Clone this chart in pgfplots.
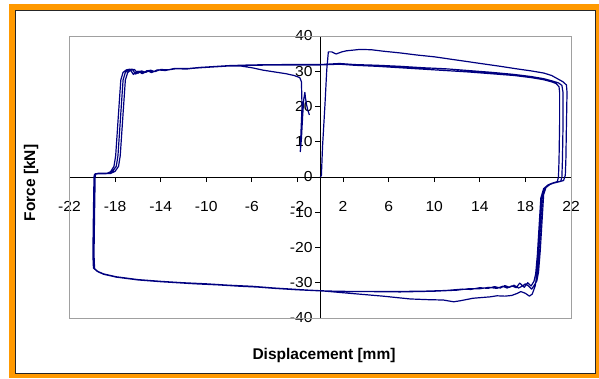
\documentclass[border=0pt]{standalone}
\usepackage{fontspec}
\setmainfont{Liberation Sans}
\newfontfamily\tickfont[FakeStretch=1.08]{Liberation Sans}
\usepackage{pgfplots}
\pgfplotsset{compat=1.18}
\definecolor{navyline}{RGB}{0,0,128}
\definecolor{frameorange}{RGB}{255,153,0}
\definecolor{boxgray}{RGB}{160,160,160}
\begin{document}
\begin{tikzpicture}
\useasboundingbox (0pt,0pt) rectangle (599pt,378pt);
\fill[white] (0pt,0pt) rectangle (599pt,378pt);
\fill[frameorange] (9pt,0pt) rectangle (599pt,374pt);
\filldraw[fill=white, draw=black!85, line width=1.3pt] (15.8pt,4.6pt) rectangle (595.3pt,367.4pt);
\begin{axis}[
  scale only axis, width=501.5pt, height=282pt,
  at={(69.5pt,60pt)}, anchor=south west,
  xmin=-22, xmax=22, ymin=-40, ymax=40,
  axis lines=middle, axis line style={-, black, line width=0.8pt},
  xtick={-22,-18,-14,-10,-6,-2,2,6,10,14,18,22},
  xticklabels={-22,-18,-14,-10,-6,-2,2,6,10,14,18,22},
  ytick={-40,-30,-20,-10,0,10,20,30,40},
  yticklabels={-40,-30,-20,-10,0,10,20,30,40},
  hide obscured x ticks=false, hide obscured y ticks=false,
  tick align=outside, major tick length=5pt,
  tick style={black, line width=0.8pt},
  xticklabel style={anchor=base, yshift=-29.5pt, inner sep=0pt, font=\tickfont\fontsize{14.5pt}{14.5pt}\selectfont},
  yticklabel style={anchor=east, xshift=-2.5pt, inner sep=0pt, font=\tickfont\fontsize{14.5pt}{14.5pt}\selectfont},
  clip=false,
]
\draw[boxgray, line width=1pt] (rel axis cs:0,0) rectangle (rel axis cs:1,1);
\addplot[navyline, line width=1.2pt, line join=round, mark=none] coordinates {
(0,0) (0.1,0.4) (0.2,8.6) (0.42,20.9) (0.57,30.4) (0.71,35.5) (1.0,35.5) (1.39,34.9) (1.9,35.5) (2.3,35.8) (3.5,36.2) (4.5,36.1) (5.5,35.7) (7,35.2) (8.5,34.6) (10,34.1) (11.5,33.4) (13,32.7) (14.5,32.0) (15.8,31.4) (17,30.8) (18.5,30.1) (19.6,29.5) (20.3,28.8) (20.8,27.9) (21.3,27.0) (21.6,26.1) (21.65,24) (21.6,15) (21.55,5) (21.5,0.5) (21.35,-1.0) (20.9,-1.4) (20.4,-1.8) (19.9,-2.5) (19.6,-3.6) (19.45,-6) (19.3,-14) (19.15,-22) (19.0,-28) (18.85,-31) (18.6,-33.2) (18.35,-33.8) (18.0,-33.0) (17.6,-32.5) (17.3,-33.0) (16.8,-33.6) (16.2,-33.8) (15.5,-33.7) (14.9,-34.0) (13.4,-34.4) (12.3,-35.1) (11.7,-35.4) (10.8,-34.9) (9.5,-34.8) (7.9,-34.6) (5.5,-33.8) (2.6,-33.0) (0.5,-32.4) (-1,-32.1) (-2,-31.9) (-4,-31.5) (-6,-31.0) (-8,-30.7) (-10,-30.3) (-12,-30.0) (-14,-29.6) (-16,-29.1) (-17.9,-28.3) (-19.0,-27.5) (-19.5,-26.8) (-19.85,-25.9) (-19.9,-22) (-19.85,-10) (-19.8,0) (-19.75,0.9) (-19.5,1.0) (-18.4,1.0) (-18.0,1.6) (-17.7,3) (-17.55,6) (-17.3,18) (-17.1,27.5) (-16.9,29.6) (-16.6,30.4) (-16.3,30.5) (-16.0,29.4) (-15.7,30.1) (-15.3,29.7) (-14.9,30.3) (-14.5,29.9) (-14.0,30.5) (-13.3,30.4) (-12.5,30.8) (-11.5,30.8) (-10.5,31.1) (-9.5,31.3) (-8,31.6) (-6,31.8) (-3,31.9) (0,31.9) (1.7,32.2) (3,31.9) (5,31.7) (7,31.4) (9,31.0) (11,30.7) (13,30.2) (15,29.7) (17,29.1) (18.5,28.5) (19.6,27.9) (20.4,27.2) (20.9,26.7) (21.2,26.0) (21.3,24) (21.3,15) (21.25,5) (21.2,0) (21.1,-1.2) (20.7,-1.5) (20.2,-2.0) (19.8,-3.0) (19.6,-5) (19.45,-13) (19.3,-21) (19.15,-27) (19.0,-29.5) (18.8,-30.6) (18.55,-31.8) (18.3,-31.0) (18.0,-30.3) (17.7,-31.0) (17.4,-31.5) (17.0,-30.7) (16.6,-31.3) (16.2,-30.8) (15.8,-31.5) (15.3,-31.1) (14.7,-31.6) (14.0,-31.4) (13.2,-31.9) (12.5,-31.8) (11,-32.2) (9,-32.4) (6,-32.5) (3,-32.5) (0,-32.3) (-2,-32.0) (-4,-31.6) (-6,-31.1) (-8,-30.8) (-10,-30.4) (-12,-30.1) (-14,-29.7) (-16,-29.2) (-17.9,-28.4) (-19.0,-27.6) (-19.5,-26.9) (-19.8,-26.0) (-19.85,-22) (-19.8,-10) (-19.75,0) (-19.7,0.9) (-19.4,1.1) (-18.6,1.1) (-18.2,1.7) (-17.9,3) (-17.75,6) (-17.5,18) (-17.3,27.5) (-17.1,29.7) (-16.8,30.4) (-16.5,30.6) (-16.2,29.2) (-15.9,30.0) (-15.5,29.5) (-15.1,30.2) (-14.7,29.8) (-14.2,30.4) (-13.5,30.3) (-12.7,30.7) (-11.7,30.7) (-10.5,31.0) (-9.5,31.2) (-8,31.5) (-6,31.7) (-3,31.8) (0,31.8) (1.7,32.0) (3,31.7) (5,31.4) (7,31.0) (9,30.6) (11,30.2) (13,29.8) (15,29.3) (17,28.8) (18.5,28.2) (19.6,27.6) (20.3,27.0) (20.7,26.5) (20.95,25.6) (21.0,24) (21.0,15) (20.95,5) (20.9,0) (20.8,-1.3) (20.4,-1.7) (20.0,-2.2) (19.6,-3.3) (19.35,-6) (19.2,-14) (19.05,-22) (18.9,-27.5) (18.75,-29.6) (18.5,-30.9) (18.2,-30.0) (17.9,-31.3) (17.5,-30.1) (17.2,-31.4) (16.8,-30.9) (16.4,-31.5) (16.0,-31.0) (15.5,-31.6) (14.8,-31.3) (14.0,-31.7) (13.0,-31.7) (12,-32.1) (10,-32.4) (7,-32.6) (4,-32.5) (1,-32.4) (-1,-32.1) (-3,-31.8) (-5,-31.3) (-7,-31.0) (-9,-30.6) (-11,-30.3) (-13,-29.9) (-15,-29.4) (-17,-28.8) (-18.3,-28.1) (-19.2,-27.3) (-19.6,-26.7) (-19.9,-25.8) (-19.95,-22) (-19.9,-10) (-19.85,0) (-19.8,0.8) (-19.5,0.9) (-18.8,0.9) (-18.4,1.5) (-18.1,3) (-17.95,6) (-17.7,18) (-17.5,27.5) (-17.3,29.7) (-17.0,30.4) (-16.7,30.6) (-16.4,29.1) (-16.0,30.0) (-15.6,29.3) (-15.2,30.2) (-14.8,29.6) (-14.3,30.4) (-13.6,30.2) (-12.8,30.8) (-11.8,30.6) (-10.5,31.1) (-9.5,31.3) (-8,31.5) (-7,31.5) (-6,31.0) (-5,30.3) (-4,29.8) (-3,29.3) (-2.3,28.8) (-1.8,28.2) (-1.65,27) (-1.6,20) (-1.7,12) (-1.75,7.2) (-1.65,11) (-1.55,17) (-1.45,22) (-1.35,24) (-1.3,22.5) (-1.2,20.5) (-1.1,19) (-0.95,17.6)
};
\end{axis}
\node[font=\bfseries\fontsize{15.5pt}{15.5pt}\selectfont, anchor=center] at (324pt,23pt) {Displacement [mm]};
\node[font=\bfseries\fontsize{15.5pt}{15.5pt}\selectfont, rotate=90, anchor=center] at (31pt,195pt) {Force [kN]};
\end{tikzpicture}
\end{document}
